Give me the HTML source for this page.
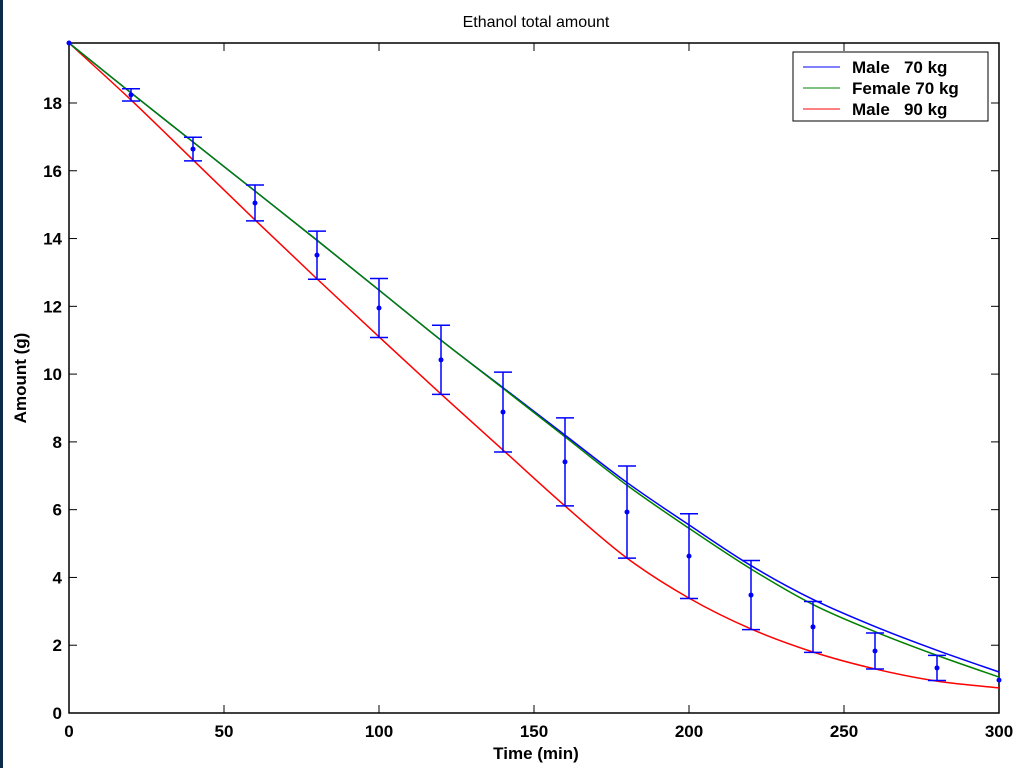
<!DOCTYPE html>
<html><head><meta charset="utf-8"><style>
body{margin:0;background:#fff;width:1024px;height:768px;overflow:hidden}
svg{display:block;font-family:"Liberation Sans",Arial,sans-serif}
</style></head><body>
<svg id="c" width="1024" height="768">
<rect x="0" y="0" width="3" height="768" fill="#0d2a4a"/>
<text x="536" y="27" text-anchor="middle" font-size="16">Ethanol total amount</text>
<text x="536" y="759" text-anchor="middle" font-size="17" font-weight="bold">Time (min)</text>
<text transform="translate(26,378) rotate(-90)" text-anchor="middle" font-size="17" font-weight="bold">Amount (g)</text>
<g id="axes"></g><g id="series"></g>
<g>
<rect x="793" y="52" width="195" height="69" fill="#fff" stroke="#000" stroke-width="1"/>
<line x1="803" y1="67" x2="840" y2="67" stroke="#0000ff"/>
<text x="852" y="73" font-size="17" font-weight="bold" xml:space="preserve">Male   70 kg</text>
<line x1="803" y1="88" x2="840" y2="88" stroke="#008000"/>
<text x="852" y="94" font-size="17" font-weight="bold">Female 70 kg</text>
<line x1="803" y1="109" x2="840" y2="109" stroke="#ff0000"/>
<text x="852" y="115" font-size="17" font-weight="bold" xml:space="preserve">Male   90 kg</text>
</g>
</svg>
<script>
const times=[0,20,40,60,80,100,120,140,160,180,200,220,240,260,280,300];
const male70=[19.77,18.3,16.85,15.4,13.95,12.48,11.0,9.6,8.2,6.8,5.55,4.35,3.35,2.55,1.85,1.21];
const female70=[19.77,18.3,16.85,15.4,13.95,12.48,11.0,9.58,8.15,6.72,5.45,4.25,3.2,2.4,1.7,1.06];
const male90=[19.77,18.09,16.32,14.55,12.81,11.1,9.41,7.76,6.11,4.57,3.39,2.48,1.8,1.3,0.94,0.74];
const measMean=[19.77,18.24,16.64,15.05,13.51,11.95,10.42,8.88,7.41,5.93,4.63,3.48,2.54,1.83,1.33,0.97];
const measErr=[0,0.18,0.35,0.53,0.71,0.87,1.02,1.18,1.3,1.36,1.25,1.02,0.75,0.53,0.37,0];
const xTicks=[0,50,100,150,200,250,300];
const yTicks=[0,2,4,6,8,10,12,14,16,18];
const NS="http://www.w3.org/2000/svg";
const L=69,R=999,T=43,B=713,YMAX=19.77;
const sx=v=>L+(v/300)*(R-L);
const sy=v=>B-(v/YMAX)*(B-T);
function mk(tag,attrs,parent){const e=document.createElementNS(NS,tag);for(const k in attrs)e.setAttribute(k,attrs[k]);parent.appendChild(e);return e;}
const ax=document.getElementById('axes');
const frame=mk('rect',{x:L,y:T,width:R-L,height:B-T,fill:'none',stroke:'#000','stroke-width':1.5},ax);


xTicks.forEach(t=>{
  const x=sx(t);
  mk('line',{x1:x,y1:B,x2:x,y2:B-8,stroke:'#000'},ax);
  mk('line',{x1:x,y1:T,x2:x,y2:T+8,stroke:'#000'},ax);
  const tx=mk('text',{x:x,y:737,'text-anchor':'middle','font-size':17,'font-weight':'bold'},ax);
  tx.textContent=t;
  
  
});
yTicks.forEach(t=>{
  const y=sy(t);
  mk('line',{x1:L,y1:y,x2:L+8,y2:y,stroke:'#000'},ax);
  mk('line',{x1:R,y1:y,x2:R-8,y2:y,stroke:'#000'},ax);
  const tx=mk('text',{x:62,y:y+6,'text-anchor':'end','font-size':17,'font-weight':'bold'},ax);
  tx.textContent=t;
  
  
});
const sg=document.getElementById('series');
function line(vals,color,name){
  const p=times.map((t,i)=>[sx(t),sy(vals[i])]);
  let d=`M${p[0][0]},${p[0][1]}`;
  for(let i=0;i<p.length-1;i++){
    const p0=p[Math.max(0,i-1)],p1=p[i],p2=p[i+1],p3=p[Math.min(p.length-1,i+2)];
    d+=` C${p1[0]+(p2[0]-p0[0])/6},${p1[1]+(p2[1]-p0[1])/6} ${p2[0]-(p3[0]-p1[0])/6},${p2[1]-(p3[1]-p1[1])/6} ${p2[0]},${p2[1]}`;
  }
  const e=mk('path',{d:d,fill:'none',stroke:color,'stroke-width':1.5},sg);
  
  
}
line(male90,'#ff0000','line-male-90kg');
line(male70,'#0000ff','line-male-70kg');
line(female70,'#008000','line-female-70kg');
times.forEach((t,i)=>{
  const x=sx(t),m=measMean[i],e=measErr[i];
  if(e>0){
    const g=mk('g',{stroke:'#0000ff','stroke-width':1.5},sg);
    
    
    mk('line',{x1:x,y1:sy(m+e),x2:x,y2:sy(m-e)},g);
    mk('line',{x1:x-9,y1:sy(m+e),x2:x+9,y2:sy(m+e)},g);
    mk('line',{x1:x-9,y1:sy(m-e),x2:x+9,y2:sy(m-e)},g);
  }
  const c=mk('circle',{cx:x,cy:sy(m),r:2.5,fill:'#0000ff'},sg);
  
  
});
</script>
</body></html>
